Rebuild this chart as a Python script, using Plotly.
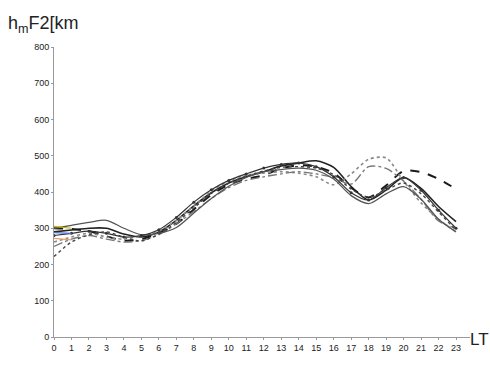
import plotly.graph_objects as go

hours = list(range(24))
x_tick_labels = [str(h) for h in hours]
y_ticks = [0, 100, 200, 300, 400, 500, 600, 700, 800]

s_solid_black = [290, 295, 300, 300, 284, 276, 290, 322, 362, 398, 425, 442, 456, 472, 480, 486, 468, 415, 378, 405, 440, 410, 360, 318]
s_dash_black = [300, 298, 292, 278, 266, 270, 286, 312, 352, 392, 420, 436, 446, 465, 474, 470, 452, 412, 385, 418, 458, 455, 436, 408]
s_dot_grey = [262, 276, 286, 276, 270, 280, 292, 322, 362, 402, 430, 446, 452, 456, 452, 442, 420, 450, 490, 494, 430, 370, 325, 290]
s_dashdot_grey = [250, 270, 280, 270, 262, 266, 282, 312, 346, 382, 412, 432, 442, 450, 456, 450, 440, 422, 470, 465, 430, 380, 320, 300]
s_solid_grey = [300, 308, 316, 322, 300, 282, 286, 302, 342, 382, 416, 440, 456, 462, 466, 460, 436, 390, 368, 395, 415, 380, 325, 290]
s_marker_black = [280, 286, 292, 286, 276, 280, 296, 330, 372, 406, 432, 450, 466, 476, 480, 470, 442, 398, 378, 412, 440, 405, 350, 300]
s_dot_black = [222, 262, 282, 290, 275, 265, 284, 316, 356, 396, 424, 444, 458, 468, 470, 466, 448, 408, 386, 405, 425, 395, 345, 295]
s_yellow = [305, 300]
s_blue = [288, 286]
s_orange = [272, 268]

series = [
    ("solid black", s_solid_black, "#222222", "solid", 1.6),
    ("dash black", s_dash_black, "#1a1a1a", "dash", 2.0),
    ("dot grey", s_dot_grey, "#8a8a8a", "dot", 1.6),
    ("dashdot grey", s_dashdot_grey, "#777777", "dashdot", 1.3),
    ("solid grey", s_solid_grey, "#555555", "solid", 1.3),
    ("marker black", s_marker_black, "#333333", "solid", 1.2),
    ("dot black", s_dot_black, "#444444", "dot", 1.4),
]

fig = go.Figure()
for name, vals, color, dash, w in series:
    fig.add_trace(go.Scatter(
        x=hours, y=vals, mode="lines+markers" if name == "marker black" else "lines",
        line=dict(color=color, dash=dash, width=w, shape="spline", smoothing=0.8),
        marker=dict(size=3, color=color),
        name=name, showlegend=False, hoverinfo="skip"))

for vals, color in [(s_yellow, "#c8b400"), (s_blue, "#4a6fd0"), (s_orange, "#e0a070")]:
    fig.add_trace(go.Scatter(x=hours[:len(vals)], y=vals, mode="lines",
                             line=dict(color=color, width=1.2), showlegend=False, hoverinfo="skip"))

fig.update_layout(
    width=490, height=365,
    margin=dict(l=54, r=20, t=47, b=25),
    paper_bgcolor="white", plot_bgcolor="white",
    font=dict(family="Liberation Sans, Arial, sans-serif", size=9, color="#222222"),
    xaxis=dict(range=[0, 23.8], tickmode="array", tickvals=hours, ticktext=x_tick_labels,
               showgrid=False, zeroline=False, showline=True, linecolor="#999999", linewidth=1,
               ticks="outside", ticklen=2, tickcolor="#999999", tickfont=dict(size=9),
               fixedrange=True),
    yaxis=dict(range=[0, 800], tickmode="array", tickvals=y_ticks,
               showgrid=False, zeroline=False, showline=True, linecolor="#999999", linewidth=1,
               ticks="outside", ticklen=2, tickcolor="#999999", tickfont=dict(size=9),
               fixedrange=True),
    annotations=[
        dict(text="h<sub>m</sub>F2[km", xref="paper", yref="paper", x=-0.115, y=1.03,
             xanchor="left", yanchor="bottom", showarrow=False,
             font=dict(size=18, color="#222222")),
        dict(text="LT", xref="paper", yref="paper", x=0.995, y=0.03,
             xanchor="left", yanchor="top", showarrow=False,
             font=dict(size=17, color="#222222")),
    ],
)

fig.write_html("out.html")
